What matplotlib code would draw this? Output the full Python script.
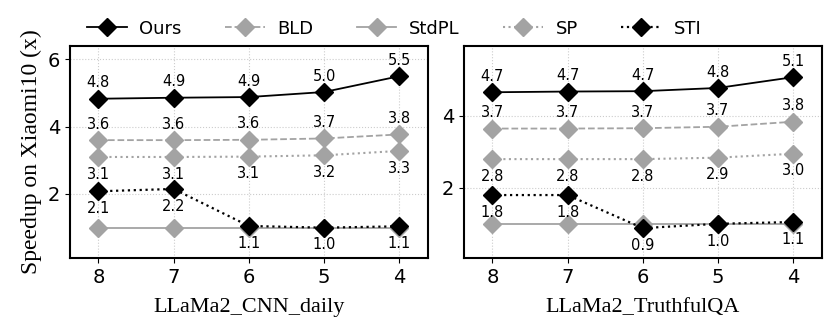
import matplotlib
matplotlib.use('Agg')
import matplotlib.pyplot as plt
import numpy as np

xticks = ['8', '7', '6', '5', '4']
titles = ['LLaMa2_CNN_daily', 'LLaMa2_TruthfulQA']

# plotted values (left panel / right panel)
ours = [[4.83, 4.86, 4.88, 5.03, 5.50], [4.66, 4.68, 4.69, 4.78, 5.08]]
bld = [[3.60, 3.60, 3.61, 3.65, 3.77], [3.65, 3.65, 3.66, 3.70, 3.84]]
stdpl = [[1.00, 1.00, 1.00, 1.00, 1.00], [1.00, 1.00, 1.00, 1.00, 1.00]]
sp = [[3.10, 3.10, 3.11, 3.15, 3.28], [2.80, 2.80, 2.80, 2.84, 2.95]]
sti = [[2.08, 2.15, 1.05, 1.00, 1.04], [1.80, 1.80, 0.88, 1.00, 1.05]]

# text labels shown next to the points
ours_lab = [['4.8', '4.9', '4.9', '5.0', '5.5'], ['4.7', '4.7', '4.7', '4.8', '5.1']]
bld_lab = [['3.6', '3.6', '3.6', '3.7', '3.8'], ['3.7', '3.7', '3.7', '3.7', '3.8']]
sp_lab = [['3.1', '3.1', '3.1', '3.2', '3.3'], ['2.8', '2.8', '2.8', '2.9', '3.0']]
sti_lab = [['2.1', '2.2', '1.1', '1.0', '1.1'], ['1.8', '1.8', '0.9', '1.0', '1.1']]

ylims = [(0.1, 6.4), (0.05, 5.95)]
yticks = [[2, 4, 6], [2, 4]]

gray = '#a3a3a3'
fig, axes = plt.subplots(1, 2, figsize=(8.31, 3.35), dpi=100)
plt.subplots_adjust(left=0.084, right=0.989, top=0.863, bottom=0.23, wspace=0.1)

x = np.arange(len(xticks))
ms = 9
for i, ax in enumerate(axes):
    ax.plot(x, ours[i], color='black', ls='-', lw=1.3, marker='D', ms=ms, label='Ours', zorder=5)
    ax.plot(x, bld[i], color=gray, ls='--', lw=1.3, marker='D', ms=ms, label='BLD', zorder=4)
    ax.plot(x, stdpl[i], color=gray, ls='-', lw=1.3, marker='D', ms=ms, label='StdPL', zorder=3)
    ax.plot(x, sp[i], color=gray, ls=':', lw=1.5, marker='D', ms=ms, label='SP', zorder=4)
    ax.plot(x, sti[i], color='black', ls=':', lw=1.6, marker='D', ms=ms, label='STI', zorder=6)

    for j in range(len(x)):
        ax.annotate(ours_lab[i][j], (x[j], ours[i][j]), xytext=(0, 6), textcoords='offset points',
                    ha='center', va='bottom', fontsize=10.5)
        ax.annotate(bld_lab[i][j], (x[j], bld[i][j]), xytext=(0, 6), textcoords='offset points',
                    ha='center', va='bottom', fontsize=10.5)
        ax.annotate(sp_lab[i][j], (x[j], sp[i][j]), xytext=(0, -7), textcoords='offset points',
                    ha='center', va='top', fontsize=10.5)
        ax.annotate(sti_lab[i][j], (x[j], sti[i][j]), xytext=(0, -7), textcoords='offset points',
                    ha='center', va='top', fontsize=10.5)

    ax.set_xlim(-0.38, 4.38)
    ax.set_ylim(*ylims[i])
    ax.set_xticks(x)
    ax.set_xticklabels(xticks, fontsize=14)
    ax.set_yticks(yticks[i])
    ax.tick_params(axis='y', labelsize=14)
    ax.grid(True, ls=':', color='#cccccc', lw=0.8)
    for s in ax.spines.values():
        s.set_linewidth(1.5)
    ax.set_xlabel(titles[i], fontsize=16, family='Liberation Serif', labelpad=8)

axes[0].set_ylabel('Speedup on Xiaomi10 (x)', fontsize=17, family='Liberation Serif')

handles, labels = axes[0].get_legend_handles_labels()
fig.legend(handles, labels, loc='upper left', bbox_to_anchor=(0.085, 0.99), ncol=5,
           frameon=False, fontsize=13, handlelength=2.2, columnspacing=2.4, handletextpad=0.7)

plt.savefig('out.png', dpi=100)
